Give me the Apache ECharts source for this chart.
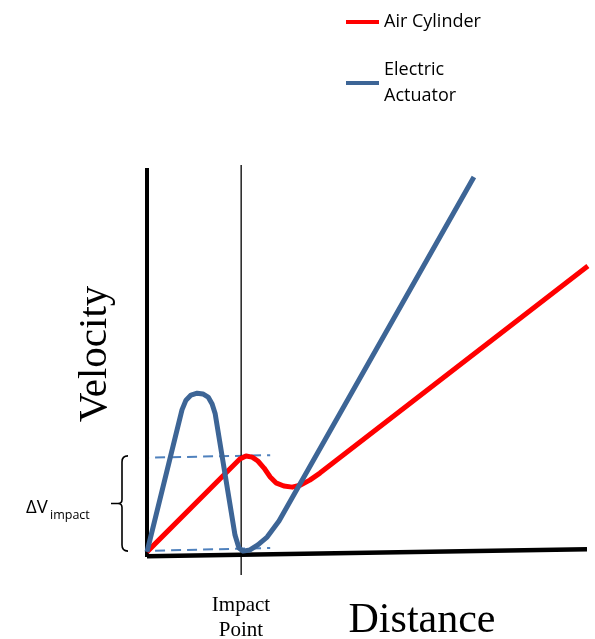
<!DOCTYPE html>
<html>
<head>
<meta charset="utf-8">
<script src="https://cdn.jsdelivr.net/npm/echarts@6/dist/echarts.min.js"></script>
<style>html,body{margin:0;padding:0;background:#fff}#c{width:595px;height:639px}</style>
</head>
<body>
<div id="c"></div>
<script>
// Air cylinder velocity vs distance (arbitrary units, 0-100)
const distAir = [0, 21.1, 22.5, 23.9, 25.2, 26.6, 28.0, 29.3, 31.1, 33.0, 34.8, 37.0, 39.3, 100.2];
const velAir  = [0.8, 24.6, 25.4, 25.1, 24.1, 22.3, 20.0, 18.5, 17.7, 17.4, 17.9, 19.2, 21.0, 74.1];
// Electric actuator velocity vs distance
const distElec = [0, 7.95, 8.86, 10.0, 11.4, 12.7, 13.9, 14.8, 15.5, 20.0, 20.9, 21.8, 23.4, 25.2, 27.3, 30.0, 74.3];
const velElec  = [0.8, 37.2, 39.7, 41.0, 41.5, 41.3, 40.5, 38.7, 36.2, 5.1, 1.8, 1.0, 1.3, 2.6, 4.6, 8.7, 96.9];
// Impact point and the two impact-velocity levels
const impactDist = 21.4;
const dashDist = [-1.8, 28.0];
const dashUpper = [24.9, 25.6];
const dashLower = [1.0, 1.8];
// Drawn axes (slightly tilted distance axis)
const xAxisDist = [0, 100];
const xAxisVel = [-0.3, 1.5];
const yAxisVel = [-0.5, 99.2];
const impactVel = [100, -5.1];

const zip = (a, b) => a.map((v, i) => [v, b[i]]);

const chart = echarts.init(document.getElementById('c'), null, {renderer: 'canvas'});
const BLUE = '#3D6596';
const DASH = '#4F81BD';

chart.setOption({
  animation: false,
  backgroundColor: '#fff',
  grid: {left: 147, width: 440, top: 165, height: 390},
  xAxis: {type: 'value', min: 0, max: 100, show: false},
  yAxis: {type: 'value', min: 0, max: 100, show: false},
  legend: {
    data: ['Air Cylinder', 'Electric Actuator'],
    orient: 'vertical',
    left: 346, top: 9, padding: 0,
    itemWidth: 33, itemHeight: 4, itemGap: 22,
    icon: 'rect',
    formatter: n => n === 'Electric Actuator' ? 'Electric\nActuator' : n,
    textStyle: {fontFamily: 'Open Sans', fontSize: 18, lineHeight: 26, color: '#000'}
  },
  series: [
    {name: 'dashU', type: 'line', data: zip(dashDist, dashUpper), symbol: 'none', clip: false, silent: true,
     lineStyle: {color: DASH, width: 2, type: [10, 6]}},
    {name: 'dashL', type: 'line', data: zip(dashDist, dashLower), symbol: 'none', clip: false, silent: true,
     lineStyle: {color: DASH, width: 2, type: [10, 6]}},
    {name: 'yaxis', type: 'line', data: zip([0, 0], yAxisVel), symbol: 'none', clip: false, silent: true,
     lineStyle: {color: '#000', width: 4}},
    {name: 'xaxis', type: 'line', data: zip(xAxisDist, xAxisVel), symbol: 'none', clip: false, silent: true,
     lineStyle: {color: '#000', width: 4.5}},
    {name: 'impact', type: 'line', data: zip([impactDist, impactDist], impactVel), symbol: 'none', clip: false, silent: true,
     lineStyle: {color: '#000', width: 1.3}},
    {name: 'Air Cylinder', type: 'line', data: zip(distAir, velAir), symbol: 'none', clip: false,
     color: '#FF0000', lineStyle: {color: '#FF0000', width: 5, join: 'round'}},
    {name: 'Electric Actuator', type: 'line', data: zip(distElec, velElec), symbol: 'none', clip: false,
     color: BLUE, lineStyle: {color: BLUE, width: 5, join: 'round'}},
    {name: 'brace', type: 'custom', silent: true, clip: false, data: [[0]],
     renderItem: function (params, api) {
       const top = api.coord([0, dashUpper[0]]);
       const bot = api.coord([0, dashLower[0]]);
       const yT = top[1] - 2, yB = bot[1];
       const yM = (yT + yB) / 2;
       const x0 = top[0] - 25, hx = x0 + 6, tx = x0 - 11;
       const d = `M${hx} ${yT} Q${x0} ${yT} ${x0} ${yT + 6} L${x0} ${yM - 4} Q${x0} ${yM} ${x0 - 4} ${yM} L${tx} ${yM} ` +
                 `M${x0 - 4} ${yM} Q${x0} ${yM} ${x0} ${yM + 4} L${x0} ${yB - 6} Q${x0} ${yB} ${hx} ${yB}`;
       return {type: 'path', shape: {pathData: d}, style: {stroke: '#000', fill: null, lineWidth: 1.6}};
     }}
  ],
  graphic: [
    {type: 'text', x: 95, y: 354, rotation: Math.PI / 2,
     style: {text: 'Velocity', font: '41px "Liberation Serif"', fill: '#000', textAlign: 'center', textVerticalAlign: 'middle'}},
    {type: 'text', x: 422, y: 621,
     style: {text: 'Distance', font: '42px "Liberation Serif"', fill: '#000', textAlign: 'center', textVerticalAlign: 'middle'}},
    {type: 'text', x: 241, y: 617.5,
     style: {text: 'Impact\nPoint', font: '21px "Liberation Serif"', lineHeight: 25, fill: '#000', textAlign: 'center', textVerticalAlign: 'middle'}},
    {type: 'text', x: 26, y: 508,
     style: {text: 'ΔV', font: '18.5px "Open Sans"', fill: '#000', textAlign: 'left', textVerticalAlign: 'middle'}},
    {type: 'text', x: 50, y: 515,
     style: {text: 'impact', font: '12.5px "Open Sans"', fill: '#000', textAlign: 'left', textVerticalAlign: 'middle'}}
  ]
});
</script>
</body>
</html>
